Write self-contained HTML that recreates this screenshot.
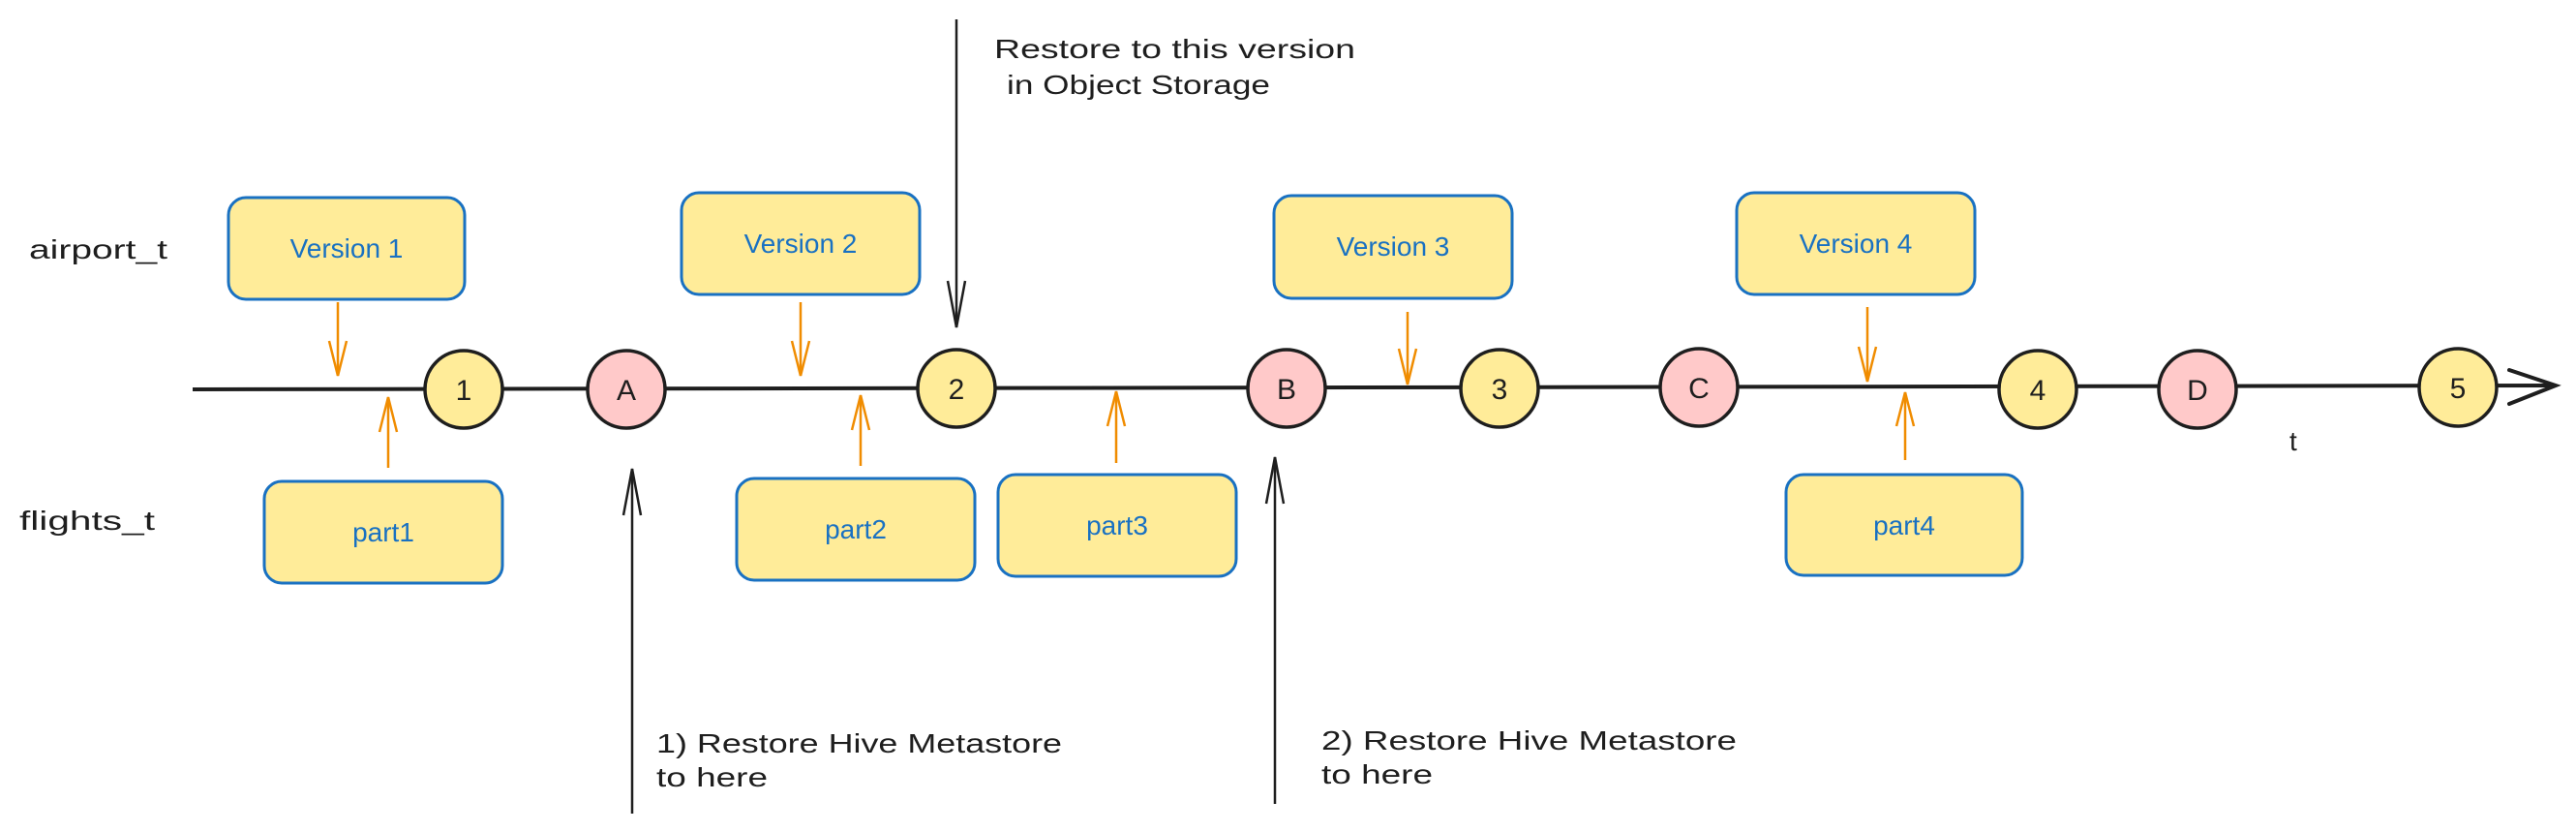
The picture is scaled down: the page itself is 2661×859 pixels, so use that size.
<!DOCTYPE html>
<html><head><meta charset="utf-8"><style>
html,body{margin:0;padding:0;background:#fff;}
svg{display:block;}
text{font-family:"Liberation Sans",sans-serif;}
</style></head><body>
<svg width="2661" height="859" viewBox="0 0 2661 859" xmlns="http://www.w3.org/2000/svg">
<rect width="2661" height="859" fill="#fff"/>
<line x1="199" y1="402" x2="2640" y2="398" stroke="#1e1e1e" stroke-width="4"/>
<polyline points="2592,382 2640,398 2592,417" fill="none" stroke="#1e1e1e" stroke-width="4" stroke-linecap="round"/>
<g fill="#ffec99" stroke="#1971c2" stroke-width="3">
<rect x="236" y="204" width="244" height="105" rx="18"/>
<rect x="704" y="199" width="246" height="105" rx="18"/>
<rect x="1316" y="202" width="246" height="106" rx="18"/>
<rect x="1794" y="199" width="246" height="105" rx="18"/>
<rect x="273" y="497" width="246" height="105" rx="18"/>
<rect x="761" y="494" width="246" height="105" rx="18"/>
<rect x="1031" y="490" width="246" height="105" rx="18"/>
<rect x="1845" y="490" width="244" height="104" rx="18"/>
</g>
<g fill="#1971c2" font-size="28" text-anchor="middle">
<text x="358" y="266">Version 1</text>
<text x="827" y="261">Version 2</text>
<text x="1439" y="264">Version 3</text>
<text x="1917" y="261">Version 4</text>
<text x="396" y="559">part1</text>
<text x="884" y="556">part2</text>
<text x="1154" y="552">part3</text>
<text x="1967" y="552">part4</text>
</g>
<g stroke="#f08c00" stroke-width="2.5" fill="none">
<line x1="349" y1="312" x2="349" y2="388"/><polyline points="340,352 349,388 358,352"/>
<line x1="827" y1="312" x2="827" y2="388"/><polyline points="818,352 827,388 836,352"/>
<line x1="1454" y1="322" x2="1454" y2="397"/><polyline points="1445,360 1454,397 1463,360"/>
<line x1="1929" y1="317" x2="1929" y2="394"/><polyline points="1920,358 1929,394 1938,358"/>
<line x1="401" y1="483" x2="401" y2="410"/><polyline points="392,446 401,410 410,446"/>
<line x1="889" y1="481" x2="889" y2="408"/><polyline points="880,444 889,408 898,444"/>
<line x1="1153" y1="478" x2="1153" y2="404"/><polyline points="1144,440 1153,404 1162,440"/>
<line x1="1968" y1="475" x2="1968" y2="405"/><polyline points="1959,440 1968,405 1977,440"/>
</g>
<g stroke="#1e1e1e" stroke-width="3.5">
<circle cx="479" cy="402" r="40" fill="#ffec99"/>
<circle cx="647" cy="402" r="40" fill="#ffc9c9"/>
<circle cx="988" cy="401" r="40" fill="#ffec99"/>
<circle cx="1329" cy="401" r="40" fill="#ffc9c9"/>
<circle cx="1549" cy="401" r="40" fill="#ffec99"/>
<circle cx="1755" cy="400" r="40" fill="#ffc9c9"/>
<circle cx="2105" cy="402" r="40" fill="#ffec99"/>
<circle cx="2270" cy="402" r="40" fill="#ffc9c9"/>
<circle cx="2539" cy="400" r="40" fill="#ffec99"/>
</g>
<g fill="#1e1e1e" font-size="30" text-anchor="middle">
<text x="479" y="413">1</text>
<text x="647" y="413">A</text>
<text x="988" y="412">2</text>
<text x="1329" y="412">B</text>
<text x="1549" y="412">3</text>
<text x="1755" y="411">C</text>
<text x="2105" y="413">4</text>
<text x="2270" y="413">D</text>
<text x="2539" y="411">5</text>
</g>
<g stroke="#1e1e1e" stroke-width="2.5" fill="none">
<line x1="988" y1="20" x2="988" y2="338"/><polyline points="979,290 988,338 997,290"/>
<line x1="653" y1="840" x2="653" y2="484"/><polyline points="644,532 653,484 662,532"/>
<line x1="1317" y1="830" x2="1317" y2="472"/><polyline points="1308,520 1317,472 1326,520"/>
</g>
<g fill="#1e1e1e" font-size="28">
<text x="30" y="267" textLength="143" lengthAdjust="spacingAndGlyphs">airport_t</text>
<text x="20" y="547" textLength="140" lengthAdjust="spacingAndGlyphs">flights_t</text>
<text x="2365" y="465">t</text>
<text x="1027" y="60" textLength="373" lengthAdjust="spacingAndGlyphs">Restore to this version</text>
<text x="1040" y="97" textLength="272" lengthAdjust="spacingAndGlyphs">in Object Storage</text>
<text x="678" y="777" textLength="419" lengthAdjust="spacingAndGlyphs">1) Restore Hive Metastore</text>
<text x="678" y="812" textLength="115" lengthAdjust="spacingAndGlyphs">to here</text>
<text x="1365" y="774" textLength="429" lengthAdjust="spacingAndGlyphs">2) Restore Hive Metastore</text>
<text x="1365" y="809" textLength="115" lengthAdjust="spacingAndGlyphs">to here</text>
</g>
</svg>
</body></html>
